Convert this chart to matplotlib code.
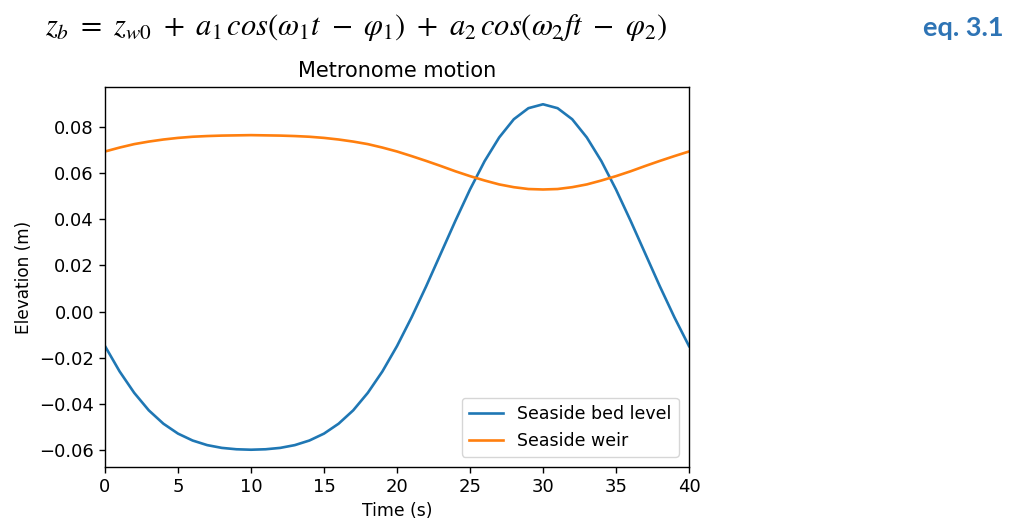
import numpy as np
import matplotlib.pyplot as plt

# time in seconds (one sample per second)
time_s = list(range(0, 41))

# seaside bed level (m)
bed_level = [-0.0150, -0.0260, -0.0353, -0.0429, -0.0487, -0.0530, -0.0560, -0.0580,
             -0.0592, -0.0598, -0.0600, -0.0598, -0.0592, -0.0580, -0.0560, -0.0530,
             -0.0487, -0.0429, -0.0353, -0.0260, -0.0150, -0.0025, 0.0110, 0.0252,
             0.0394, 0.0530, 0.0653, 0.0756, 0.0835, 0.0883, 0.0900, 0.0883,
             0.0835, 0.0756, 0.0653, 0.0530, 0.0394, 0.0252, 0.0110, -0.0025, -0.0150]

# seaside weir (m)
weir = [0.0695, 0.0712, 0.0727, 0.0738, 0.0747, 0.0754, 0.0759, 0.0762,
        0.0764, 0.0765, 0.0766, 0.0765, 0.0764, 0.0762, 0.0759, 0.0754,
        0.0747, 0.0738, 0.0727, 0.0712, 0.0695, 0.0675, 0.0654, 0.0632,
        0.0609, 0.0588, 0.0569, 0.0552, 0.0540, 0.0532, 0.0530, 0.0532,
        0.0540, 0.0552, 0.0569, 0.0588, 0.0609, 0.0632, 0.0654, 0.0675, 0.0695]

series_labels = ["Seaside bed level", "Seaside weir"]
x_ticks = [0, 5, 10, 15, 20, 25, 30, 35, 40]

plt.rcParams['mathtext.fontset'] = 'stix'
fs = 13

fig = plt.figure(figsize=(10.16, 5.2), dpi=100)

# equation line above the chart
eq = (r'$z_b\ =\ z_{w0}\ +\ a_1\,cos(\omega_1 t\ -\ \varphi_1)\ +\ '
      r'a_2\,cos(\omega_2 f t\ -\ \varphi_2)$')
fig.text(0.044, 0.947, eq, fontsize=22, va='center', ha='left')
fig.text(0.988, 0.947, 'eq. 3.1', fontsize=19.5, fontweight='bold', color='#2E74B5',
         family='Lato', va='center', ha='right')

ax = fig.add_axes([105/1016, 1 - 467/520, 584/1016, 380/520])
ax.plot(time_s, bed_level, color='#1f77b4', lw=1.9, label=series_labels[0])
ax.plot(time_s, weir, color='#ff7f0e', lw=1.9, label=series_labels[1])
ax.set_xlim(0, 40)
ax.set_xticks(x_ticks)
ax.set_title("Metronome motion", fontsize=15, pad=7)
ax.set_xlabel("Time (s)", fontsize=12.4)
ax.set_ylabel("Elevation (m)", fontsize=12.2)
ax.tick_params(labelsize=fs, length=4.5, width=1)
for s in ax.spines.values():
    s.set_linewidth(1)
ax.legend(loc='lower right', fontsize=12.5, borderaxespad=0.6)

fig.savefig("out.png", dpi=100)
